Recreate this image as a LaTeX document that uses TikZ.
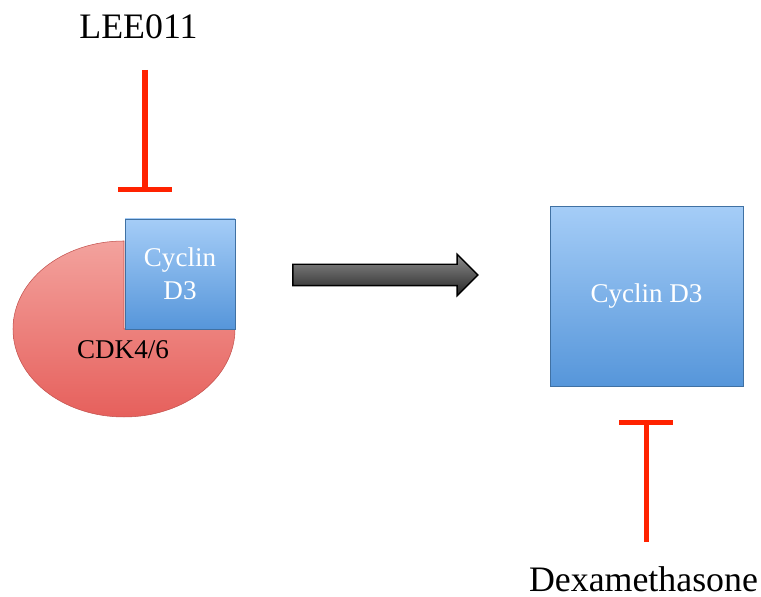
\documentclass[tikz,border=0pt]{standalone}
\usepackage{fontspec}
\setmainfont{Liberation Serif}
\usepackage{xcolor}
\definecolor{inhibred}{RGB}{255,34,0}
\definecolor{cyclintop}{RGB}{165,205,247}
\definecolor{cyclinbot}{RGB}{86,150,218}
\definecolor{cdktop}{RGB}{243,162,157}
\definecolor{cdkbot}{RGB}{230,96,92}
\usetikzlibrary{arrows.meta}
\usetikzlibrary{positioning,shapes.arrows}

\tikzset{
    cyclin/.style={draw=cyclinbot!75!black,line width=0.4pt,top color=cyclintop,bottom color=cyclinbot,
        text=white,align=center,inner sep=0pt,font=\fontsize{15.4}{18.8}\selectfont},
    drug/.style={inner sep=0pt,font=\fontsize{20.4}{24}\selectfont},
    inhibit/.style={draw=inhibred,line width=2.85pt,-{Bar[width=30.7pt]}},
    convert/.style={single arrow,draw=black,line width=0.8pt,top color=black!45,bottom color=black!85,
        inner xsep=0pt,inner ysep=0.2cm,single arrow head extend=0.2cm,single arrow head indent=0pt,
        minimum height=3.7cm}
}

\begin{document}
\begin{tikzpicture}[x=0.02cm,y=0.02cm]
    \useasboundingbox (0,0) rectangle (761,597);

    % CDK4/6 with cyclin D3 in the cut-out
    \path[draw=cdkbot!85!black,line width=0.3pt,top color=cdktop,bottom color=cdkbot]
        (124,268) -- (124,356) arc[start angle=90,end angle=360,x radius=111,y radius=88] -- cycle;
    \node[cyclin,minimum width=2.2cm,minimum height=2.2cm] (cyc1) at (180,323) {Cyclin\\D3};
    \node[inner sep=0pt,font=\fontsize{15.4}{18}\selectfont] (cdk) at (123,247) {CDK4/6};

    \node[drug] (lee) at (138.5,570) {LEE011};
    \coordinate (lee-from) at (145,527);
    \coordinate (lee-to) at (145,405);

    \node[convert] (conv) at (380,322) {};

    \node[cyclin,minimum width=3.86cm,minimum height=3.6cm] (cyc2) at (646.5,301) {Cyclin D3};

    \node[drug] (dexa) at (643.5,18) {Dexamethasone};
    \coordinate (dexa-from) at (646,55);
    \coordinate (dexa-to) at (646,177);

    \draw[inhibit] (lee-from) -- (lee-to);
    \draw[inhibit] (dexa-from) -- (dexa-to);
\end{tikzpicture}
\end{document}
